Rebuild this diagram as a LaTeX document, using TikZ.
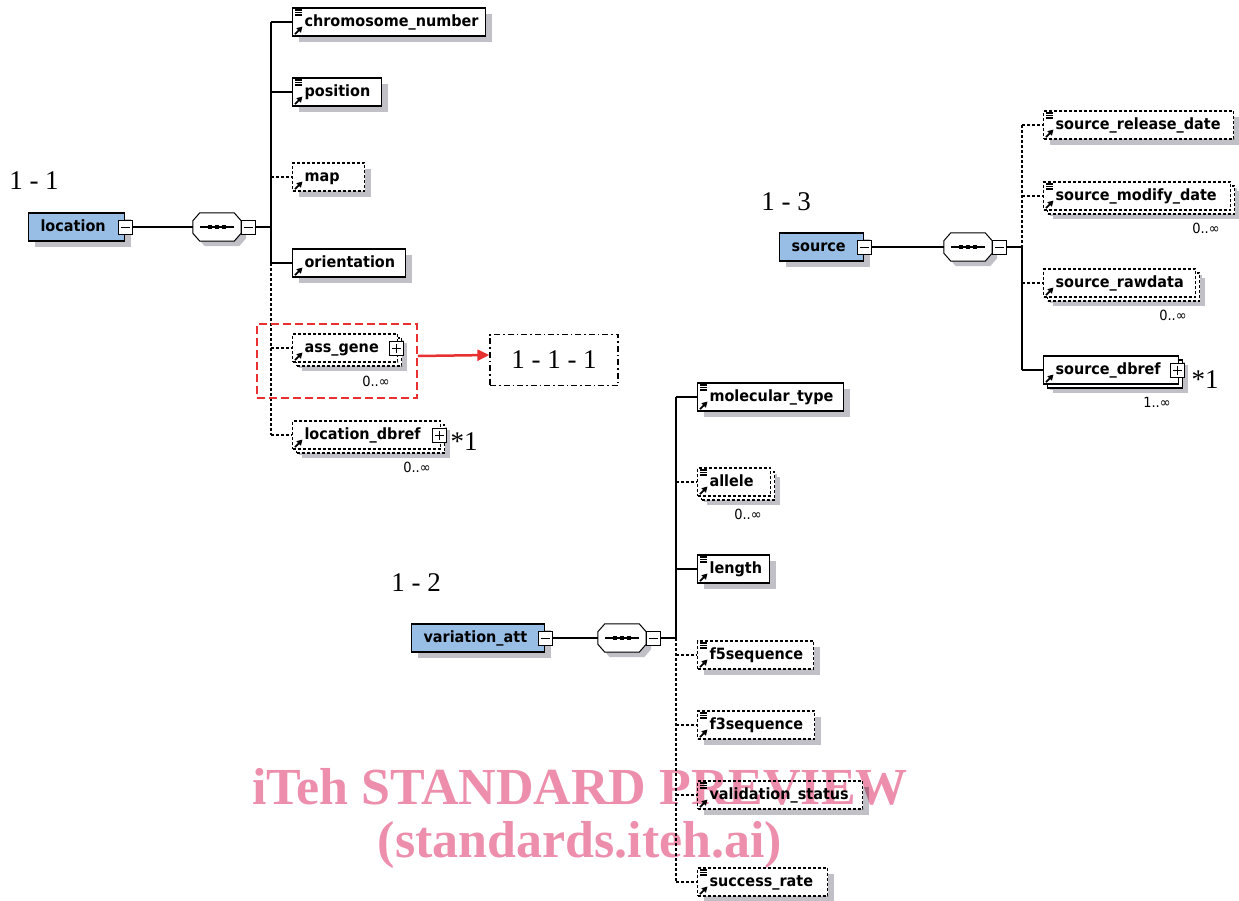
\documentclass[tikz,border=0pt]{standalone}
\usepackage{fontspec}
\setmainfont{Liberation Serif}
\newfontfamily\elemfont{DejaVu Sans}[FakeStretch=0.93]
\usepackage{tikz}
\usetikzlibrary{arrows.meta,shadows}

\definecolor{rootblue}{RGB}{153,190,230}
\definecolor{shadowgray}{RGB}{192,192,198}
\definecolor{wmpink}{RGB}{236,142,172}
\definecolor{hired}{RGB}{232,48,48}

\tikzset{
  elem/.style={draw, fill=white, line width=1.1pt, anchor=west, font=\elemfont\bfseries\fontsize{15.5}{16}\selectfont,
    text width=#1, inner xsep=0pt, inner ysep=0pt, minimum height=28pt, text height=12pt, text depth=3.5pt,
    align=left, execute at begin node=\hspace*{12pt},
    drop shadow={shadow xshift=6pt, shadow yshift=-6pt, fill=shadowgray, opacity=1}},
  root/.style={elem=#1, fill=rootblue},
  opt/.style={dash pattern=on 3pt off 2pt},
  multi/.style={drop shadow={shadow xshift=9pt, shadow yshift=-9pt, fill=shadowgray, opacity=1},
    copy shadow={shadow xshift=4pt, shadow yshift=-4pt, fill=white, draw=black, line width=1.1pt}},
  conn/.style={line width=1.1pt},
  optconn/.style={conn, dash pattern=on 3pt off 2pt},
  pmbox/.style={draw, fill=white, line width=0.9pt, minimum size=14pt, inner sep=0pt},
  minusbox/.style={pmbox, path picture={
    \draw[line width=0.9pt] ([xshift=-4.5pt]path picture bounding box.center) -- ([xshift=4.5pt]path picture bounding box.center);}},
  plusbox/.style={pmbox, path picture={
    \draw[line width=0.9pt] ([xshift=-4.5pt]path picture bounding box.center) -- ([xshift=4.5pt]path picture bounding box.center)
      ([yshift=-4.5pt]path picture bounding box.center) -- ([yshift=4.5pt]path picture bounding box.center);}},
  seq/.style={minimum width=48pt, minimum height=28pt, inner sep=0pt},
  card/.style={font=\elemfont\fontsize{14}{14}\selectfont, inner sep=0pt},
  numlab/.style={font=\fontsize{27}{27}\selectfont, inner sep=0pt},
  wm/.style={font=\bfseries\fontsize{52}{52}\selectfont, text=wmpink, inner sep=0pt},
  eqicon/.pic={\draw[line width=1.1pt] (3,2.5) -- (10,2.5) (3,5) -- (10,5) (3,7.5) -- (10,7.5);},
  refarrow/.pic={\draw[line width=1.8pt, -{Triangle[length=5.5pt,width=6pt]}] (3,-2.5) -- (10.5,-10);}
}

\begin{document}
\begin{tikzpicture}[x=1pt, y=-1pt]
    \useasboundingbox (0,0) rectangle (1239,900);
    % compositors
    \node[seq] (locseq) at (217,227) {};
    \node[seq] (srcseq) at (968,247) {};
    \node[seq] (varseq) at (622,638) {};
    \foreach \n in {locseq,srcseq,varseq} {
      \fill[shadowgray] ([shift={(12,5)}]\n.north west) -- ([shift={(-2,5)}]\n.north east) -- ([shift={(5,13)}]\n.north east)
        -- ([shift={(5,-3)}]\n.south east) -- ([shift={(-2,5)}]\n.south east) -- ([shift={(12,5)}]\n.south west)
        -- ([shift={(5,-3)}]\n.south west) -- ([shift={(5,13)}]\n.north west) -- cycle;
      \draw[line width=1pt, fill=white] ([shift={(7,0)}]\n.north west) -- ([shift={(-7,0)}]\n.north east) -- ([shift={(0,8)}]\n.north east)
        -- ([shift={(0,-8)}]\n.south east) -- ([shift={(-7,0)}]\n.south east) -- ([shift={(7,0)}]\n.south west)
        -- ([shift={(0,-8)}]\n.south west) -- ([shift={(0,8)}]\n.north west) -- cycle;
      \draw[line width=1.2pt] ([shift={(-17,0)}]\n.center) -- ([shift={(17,0)}]\n.center);
      \foreach \d in {-7,0,7} {\fill ([shift={(\d-2.3,-2.3)}]\n.center) rectangle +(4.6,4.6);}
    }
    % location
    \node[numlab] (lab11) at (34,181) {1 - 1};
    \node[root=96pt] (loc) at (28,227) {location};
    \node[minusbox] (locminus) at (loc.east) {};
    \node[minusbox] (locseqminus) at ([xshift=7.5pt]locseq.east) {};
    \coordinate (locbus) at (271,227);
    \node[elem=193pt] (chrom) at (292,22) {chromosome\_number};
    \node[elem=89pt] (posn) at (292,92) {position};
    \node[elem=72pt, opt] (map) at (292,177) {map};
    \node[elem=113pt] (orient) at (292,263) {orientation};
    \node[elem=105pt, opt, multi] (assgene) at (292,348) {ass\_gene};
    \node[plusbox] (assgeneplus) at ([xshift=-1.5pt]assgene.east) {};
    \node[elem=148pt, opt, multi] (locdbref) at (292,435) {location\_dbref};
    \node[plusbox] (locdbrefplus) at ([xshift=-1.5pt]locdbref.east) {};
    \node[card] (assgenecard) at (376,381) {0..∞};
    \node[card] (locdbrefcard) at (417,467) {0..∞};
    \node[numlab] (locdbrefstar) at (464,442) {*1};
    \draw[conn] (locminus) -- (locseq);
    \draw[conn] (locseqminus) -- (locbus);
    \draw[conn] (locbus |- chrom) -- (locbus |- orient);
    \draw[optconn] (locbus |- orient) -- (locbus |- locdbref);
    \foreach \n in {chrom,posn,orient} {\draw[conn] (locbus |- \n) -- (\n);}
    \foreach \n in {map,assgene,locdbref} {\draw[optconn] (locbus |- \n) -- (\n);}
    % highlight of ass_gene
    \node[draw=hired, dash pattern=on 8pt off 4pt, line width=1.6pt, minimum width=160pt, minimum height=74pt, inner sep=0pt] (hilite) at (337,361) {};
    \node[draw, dash pattern=on 6pt off 3pt on 1.5pt off 3pt, line width=1.3pt, minimum width=128pt, minimum height=51pt, numlab] (sub111) at (554,360) {1 - 1 - 1};
    \draw[hired, line width=2.5pt, -{Triangle[length=12pt,width=11pt]}] ([yshift=5pt]hilite.east) -- ([yshift=5pt]sub111.west);
    % source
    \node[numlab] (lab13) at (786,202) {1 - 3};
    \node[root=84pt] (src) at (779,247) {source};
    \node[minusbox] (srcminus) at (src.east) {};
    \node[minusbox] (srcseqminus) at ([xshift=7.5pt]srcseq.east) {};
    \coordinate (srcbus) at (1022,247);
    \node[elem=190pt, opt] (srcrel) at (1043,125) {source\_release\_date};
    \node[elem=187pt, opt, multi] (srcmod) at (1043,196) {source\_modify\_date};
    \node[elem=152pt, opt, multi] (srcraw) at (1043,283) {source\_rawdata};
    \node[elem=135pt, multi] (srcdbref) at (1043,370) {source\_dbref};
    \node[plusbox] (srcdbrefplus) at ([xshift=-1.5pt]srcdbref.east) {};
    \node[card] (srcmodcard) at (1206,228) {0..∞};
    \node[card] (srcrawcard) at (1173,315) {0..∞};
    \node[card] (srcdbrefcard) at (1157,402) {1..∞};
    \node[numlab] (srcdbrefstar) at (1205,380) {*1};
    \draw[conn] (srcminus) -- (srcseq);
    \draw[conn] (srcseqminus) -- (srcbus);
    \draw[optconn] (srcbus |- srcrel) -- (srcbus);
    \draw[conn] (srcbus) -- (srcbus |- srcdbref);
    \foreach \n in {srcrel,srcmod,srcraw} {\draw[optconn] (srcbus |- \n) -- (\n);}
    \draw[conn] (srcbus |- srcdbref) -- (srcdbref);
    % variation_att
    \node[numlab] (lab12) at (416,583) {1 - 2};
    \node[root=133pt] (var) at (411,638) {variation\_att};
    \node[minusbox] (varminus) at (var.east) {};
    \node[minusbox] (varseqminus) at ([xshift=7.5pt]varseq.east) {};
    \coordinate (varbus) at (676,638);
    \node[elem=146pt] (moltype) at (697,397) {molecular\_type};
    \node[elem=73pt, opt, multi] (allele) at (697,482) {allele};
    \node[elem=72pt] (length) at (697,569) {length};
    \node[elem=116pt, opt] (ffive) at (697,655) {f5sequence};
    \node[elem=117pt, opt] (fthree) at (697,725) {f3sequence};
    \node[elem=165pt, opt] (valid) at (697,795) {validation\_status};
    \node[elem=130pt, opt] (success) at (697,882) {success\_rate};
    \node[card] (allelecard) at (748,514) {0..∞};
    \draw[conn] (varminus) -- (varseq);
    \draw[conn] (varseqminus) -- (varbus);
    \draw[conn] (varbus |- moltype) -- (varbus);
    \draw[optconn] (varbus) -- (varbus |- success);
    \foreach \n in {moltype,length} {\draw[conn] (varbus |- \n) -- (\n);}
    \foreach \n in {allele,ffive,fthree,valid,success} {\draw[optconn] (varbus |- \n) -- (\n);}
    % icons
    \foreach \n in {chrom,posn,srcrel,srcmod,moltype,allele,length,ffive,fthree,valid,success} {\pic at (\n.north west) {eqicon};}
    \foreach \n in {chrom,posn,map,orient,assgene,locdbref,srcrel,srcmod,srcraw,srcdbref,moltype,allele,length,ffive,fthree,valid,success} {\pic at (\n.south west) {refarrow};}
    % watermark
    \begin{scope}[blend mode=multiply]
    \node[wm] (wm1) at (580,787) {iTeh STANDARD PREVIEW};
    \node[wm] (wm2) at (580,845) {(standards.iteh.ai)};
    \end{scope}
\end{tikzpicture}
\end{document}
